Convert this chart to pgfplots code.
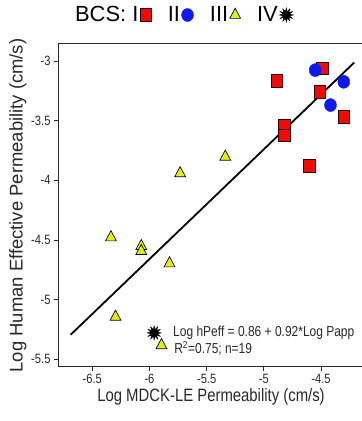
\documentclass[border=0pt]{standalone}
\usepackage{pgfplots}
\pgfplotsset{compat=1.18}
\usetikzlibrary{plotmarks}
\usepackage{fontspec}
\setmainfont{Liberation Sans}
\newfontfamily\narrowfont{Liberation Sans}[FakeStretch=0.83]
\definecolor{bcsred}{RGB}{240,10,10}
\definecolor{bcsblue}{RGB}{15,25,235}
\definecolor{bcsyellow}{RGB}{228,240,0}
\definecolor{axgray}{RGB}{40,40,40}
\pgfdeclareplotmark{burst}{%
  \pgfpathmoveto{\pgfqpointpolar{90}{\pgfplotmarksize}}%
  \foreach \k in {1,...,23}{%
    \pgfmathsetmacro{\ang}{90+\k*15}%
    \ifodd\k
      \pgfpathlineto{\pgfpointpolar{\ang}{0.5\pgfplotmarksize}}%
    \else
      \pgfpathlineto{\pgfpointpolar{\ang}{\pgfplotmarksize}}%
    \fi
  }%
  \pgfpathclose
  \pgfusepathqfillstroke
}
\begin{document}
\begin{tikzpicture}
\useasboundingbox (0,0) rectangle (362bp,421bp);
\begin{axis}[
  at={(58bp,54bp)}, anchor=south west,
  scale only axis, width=306bp, height=323bp,
  xmin=-6.800, xmax=-4.124, ymin=-5.565, ymax=-2.857,
  xtick={-6.5,-6,-5.5,-5,-4.5}, ytick={-5.5,-5,-4.5,-4,-3.5,-3},
  tick pos=left, tick align=outside, major tick length=4bp,
  tick style={axgray, line width=0.8bp},
  axis line style={axgray, line width=1bp},
  /pgf/number format/assume math mode=true,
  ticklabel style={font=\narrowfont\fontsize{13.5}{15}\selectfont, text=axgray},
  xlabel={Log MDCK-LE Permeability (cm/s)},
  ylabel={Log Human Effective Permeability (cm/s)},
  xlabel style={font=\narrowfont\fontsize{18}{20}\selectfont, text=axgray, yshift=2bp},
  ylabel style={font=\fontsize{18.5}{20}\selectfont, text=axgray, yshift=-2bp},
  legend plot pos=right,
  legend columns=-1,
  legend style={draw=none, fill=none, at={(0.41,1)}, anchor=center, yshift=29bp,
    font=\fontsize{22}{24}\selectfont, column sep=15bp,
    /tikz/every odd column/.append style={column sep=0bp},
    nodes={inner xsep=1.5bp}},
  legend cell align=left,
]
\addplot[only marks, mark=square*, mark size=6.2bp,
  mark options={fill=bcsred, draw=black!80!red, line width=0.6bp, xscale=0.92}]
  coordinates {(-4.888,-3.165) (-4.487,-3.061) (-4.510,-3.258) (-4.822,-3.537)
  (-4.822,-3.621) (-4.604,-3.878) (-4.301,-3.467)};
\addlegendentry{BCS: I}
\addplot[only marks, mark=*, mark size=6.5bp,
  mark options={fill=bcsblue, draw=bcsblue, xscale=0.92}]
  coordinates {(-4.551,-3.076) (-4.301,-3.174) (-4.417,-3.369)};
\addlegendentry{II}
\addplot[only marks, mark=triangle*, mark size=6.8bp,
  mark options={fill=bcsyellow, draw=black!70!blue, line width=0.7bp, xscale=0.92}]
  coordinates {(-5.337,-3.803) (-5.732,-3.942) (-6.337,-4.479) (-6.072,-4.552)
  (-6.072,-4.594) (-5.825,-4.697) (-6.297,-5.145) (-5.895,-5.383)};
\addlegendentry{III}
\addplot[only marks, mark=burst, mark size=7bp,
  mark options={fill=black, draw=black, line width=0.4bp}]
  coordinates {(-5.959,-5.279)};
\addlegendentry{IV}
\addplot[black, line width=1.8bp, forget plot] coordinates {(-6.69,-5.295) (-4.21,-3.013)};
\node[anchor=base west, font=\narrowfont\fontsize{14.5}{16}\selectfont, text=axgray, inner sep=0pt]
  at (axis cs:-5.794,-5.313) {Log hPeff = 0.86 + 0.92*Log Papp};
\node[anchor=base west, font=\narrowfont\fontsize{14.5}{16}\selectfont, text=axgray, inner sep=0pt]
  at (axis cs:-5.785,-5.456) {R\textsuperscript{2}=0.75; n=19};
\end{axis}
\end{tikzpicture}
\end{document}
